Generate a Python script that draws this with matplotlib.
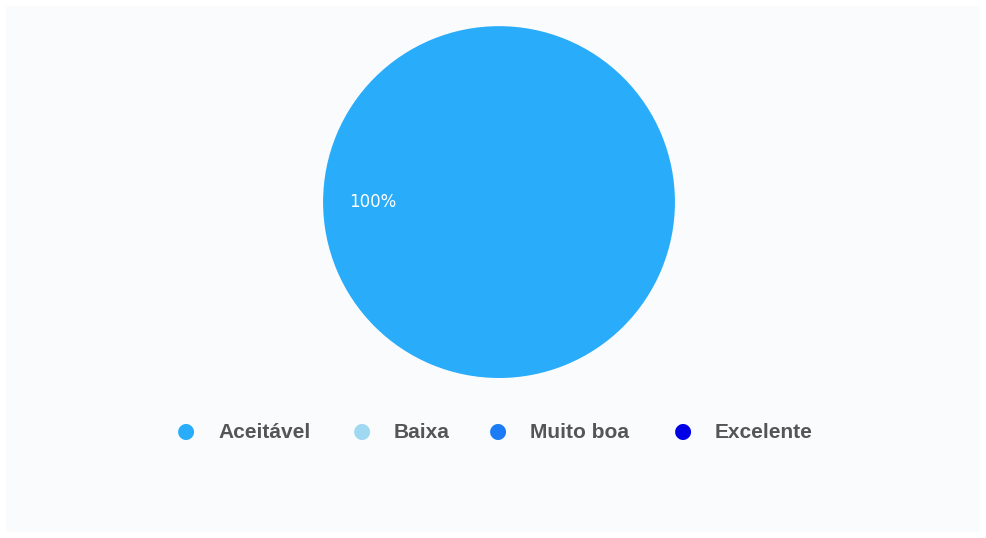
import matplotlib.pyplot as plt
from matplotlib.patches import Rectangle

categories = ['Aceitável', 'Baixa', 'Muito boa', 'Excelente']
values = [100, 0, 0, 0]
colors = ['#29acf9', '#9fd8f1', '#1c7cf5', '#0000e6']

fig = plt.figure(figsize=(9.86, 5.38), dpi=100)
fig.patch.set_facecolor('white')
# light panel behind the chart
fig.patches.append(Rectangle((6 / 986, 6 / 538), 974 / 986, 526 / 538, transform=fig.transFigure,
                             facecolor='#fafbfd', edgecolor='none', zorder=-1))

ax = fig.add_axes([0.3276, 0.2974, 0.357, 0.654])
ax.set_aspect('equal')


def pct(p):
    return '%d%%' % round(p) if p > 0 else ''


wedges, texts, autotexts = ax.pie(values, colors=colors, startangle=0, counterclock=True,
                                  autopct=pct, pctdistance=0.72,
                                  wedgeprops=dict(linewidth=0))
ax.set_xlim(-1, 1)
ax.set_ylim(-1, 1)
for t in autotexts:
    t.set_color('white')
    t.set_fontsize(12)
    t.set_family('DejaVu Sans')

# legend drawn by hand to keep the spacing of the original
marker_x = [186, 362, 498, 683]
for name, col, mx in zip(categories, colors, marker_x):
    fig.text(mx / 986, 107 / 538, '\u25cf', color=col, fontsize=15, ha='center', va='center',
             family='DejaVu Sans')
    fig.text((mx + 32) / 986, 106 / 538, name, color='#555555', fontsize=15, fontweight='bold',
             ha='left', va='center', family='Liberation Sans')

fig.savefig('out.png', dpi=100)
